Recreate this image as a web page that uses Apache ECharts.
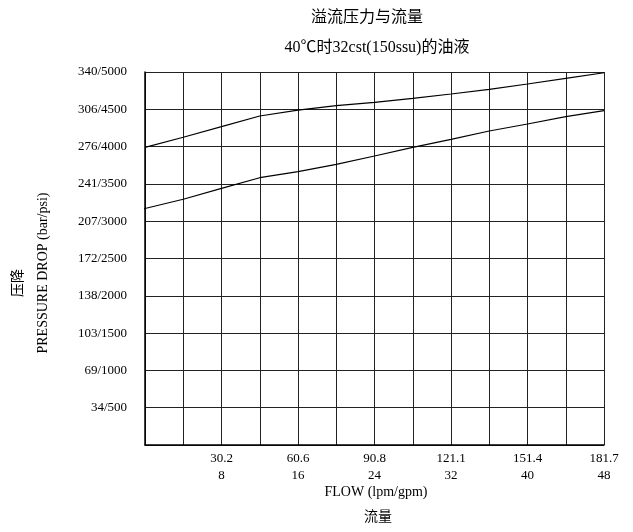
<!DOCTYPE html>
<html>
<head>
<meta charset="utf-8">
<script src="https://cdn.jsdelivr.net/npm/echarts@6/dist/echarts.min.js"></script>
<style>
	html, body { margin: 0; padding: 0; background: #fff; }
	#main { width: 633px; height: 532px; }
</style>
</head>
<body>
<div id="main"></div>
<script>
var flowGpm = [-0.35, 0, 4, 8, 12, 16, 20, 24, 28, 32, 36, 40, 44, 48]; //gpm
var upperPsi = [null, 3990, 4125, 4267, 4410, 4490, 4548, 4594, 4647, 4705, 4768, 4839, 4915, 4990];
var lowerPsi = [3150, 3170, 3294, 3441, 3583, 3664, 3762, 3874, 3990, 4098, 4209, 4303, 4401, 4481];

// 刻度标签
var psiTicks = [500, 1000, 1500, 2000, 2500, 3000, 3500, 4000, 4500, 5000];
var barTicks = ['34', '69', '103', '138', '172', '207', '241', '276', '306', '340'];
var gpmTicks = [8, 16, 24, 32, 40, 48];
var lpmTicks = ['30.2', '60.6', '90.8', '121.1', '151.4', '181.7'];

var font = '"Liberation Serif", "Noto Sans CJK SC", serif';

function pairs(xs, ys) {
	var out = [];
	for (var i = 0; i < xs.length; i++) {
		if (ys[i] != null) out.push([xs[i], ys[i]]);
	}
	return out;
}

var myChart = echarts.init(document.getElementById('main'));

var option = {
	backgroundColor: '#fff',
	animation: false,
	title: [{
		text: '溢流压力与流量',
		left: 362,
		top: 5,
		textAlign: 'center',
		textStyle: { color: '#000', fontWeight: 'normal', fontSize: 16, fontFamily: font }
	}, {
		text: '40℃时32cst(150ssu)的油液',
		left: 372,
		top: 35,
		textAlign: 'center',
		textStyle: { color: '#000', fontWeight: 'normal', fontSize: 16, fontFamily: font }
	}],
	grid: { left: 145, right: 29, top: 72, bottom: 87 },
	xAxis: {
		type: 'value',
		min: 0,
		max: 48,
		interval: 4,
		axisLine: { show: true, onZero: false, lineStyle: { color: '#000', width: 1.5 } },
		axisTick: { show: false },
		splitLine: { show: true, lineStyle: { color: '#222', width: 1 } },
		axisLabel: {
			color: '#000',
			fontSize: 13,
			fontFamily: font,
			lineHeight: 17,
			margin: 5,
			formatter: function(v) {
				var i = gpmTicks.indexOf(v);
				return i < 0 ? '' : lpmTicks[i] + '\n' + gpmTicks[i];
			}
		}
	},
	yAxis: {
		type: 'value',
		min: 0,
		max: 5000,
		interval: 500,
		axisLine: { show: true, lineStyle: { color: '#000', width: 1.5 } },
		axisTick: { show: false },
		splitLine: { show: true, lineStyle: { color: '#222', width: 1 } },
		axisLabel: {
			color: '#000',
			fontSize: 13,
			fontFamily: font,
			margin: 18,
			formatter: function(v) {
				var i = psiTicks.indexOf(v);
				return i < 0 ? '' : barTicks[i] + '/' + psiTicks[i];
			}
		}
	},
	graphic: [{
		type: 'text',
		x: 18, y: 283,
		rotation: Math.PI / 2,
		style: { text: '压降', fill: '#000', font: '14px ' + font, textAlign: 'center', textVerticalAlign: 'middle' }
	}, {
		type: 'text',
		x: 43, y: 273,
		rotation: Math.PI / 2,
		style: { text: 'PRESSURE DROP (bar/psi)', fill: '#000', font: '14px ' + font, textAlign: 'center', textVerticalAlign: 'middle' }
	}, {
		type: 'text',
		x: 376, y: 492,
		style: { text: 'FLOW (lpm/gpm)', fill: '#000', font: '14px ' + font, textAlign: 'center', textVerticalAlign: 'middle' }
	}, {
		type: 'text',
		x: 378, y: 517,
		style: { text: '流量', fill: '#000', font: '14px ' + font, textAlign: 'center', textVerticalAlign: 'middle' }
	}],
	series: [{
		name: 'upper',
		type: 'line',
		showSymbol: false,
		symbol: 'none',
		clip: false,
		lineStyle: { color: '#000', width: 1.2 },
		data: pairs(flowGpm, upperPsi)
	}, {
		name: 'lower',
		type: 'line',
		showSymbol: false,
		symbol: 'none',
		clip: false,
		lineStyle: { color: '#000', width: 1.2 },
		data: pairs(flowGpm, lowerPsi)
	}]
};

myChart.setOption(option, true);
</script>
</body>
</html>
